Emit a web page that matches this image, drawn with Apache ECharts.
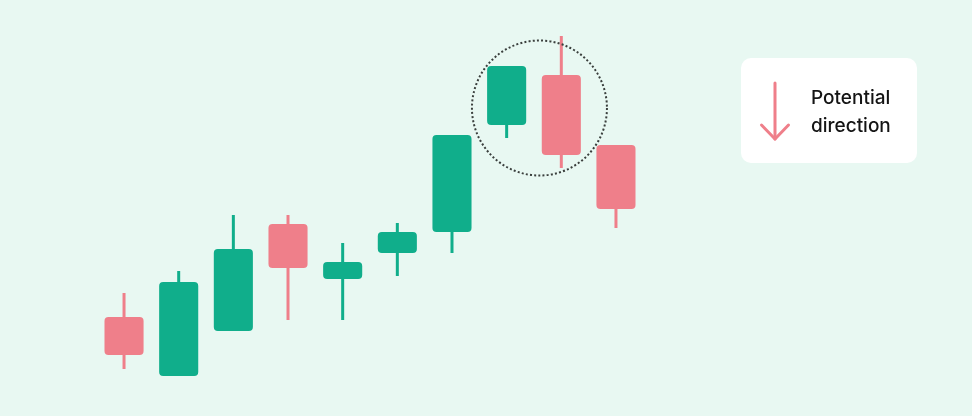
<!DOCTYPE html>
<html><head><meta charset="utf-8">
<script src="https://cdn.jsdelivr.net/npm/echarts@6/dist/echarts.min.js"></script>
<style>html,body{margin:0;padding:0;background:#E8F8F2}#c{width:972px;height:416px}</style>
</head><body><div id="c"></div>
<script>
// Candles: [open, close, low, high]
const categories = ['1','2','3','4','5','6','7','8','9','10'];
const opens  = [99, 40, 85, 192, 137, 163, 184, 291, 341, 271];
const closes = [61, 134, 167, 148, 154, 184, 281, 350, 261, 207];
const lows   = [47, 40, 85, 96, 96, 140, 163, 278, 248, 188];
const highs  = [123, 145, 201, 201, 173, 193, 281, 350, 380, 271];
const legendText = ['Potential', 'direction'];
const highlightIdx = [7, 8];
const highlightCenterValue = 308;

const GREEN = '#10AE8B', RED = '#EF7F8A';
const data = categories.map((c, i) => [i, opens[i], closes[i], lows[i], highs[i]]);

const chart = echarts.init(document.getElementById('c'), null, {renderer: 'canvas'});
chart.setOption({
  backgroundColor: '#E8F8F2',
  animation: false,
  grid: {left: 96.7, right: 328.7, top: 0, bottom: 0},
  xAxis: {type: 'category', data: categories, show: false},
  yAxis: {type: 'value', min: 0, max: 416, show: false},
  series: [{
    type: 'custom',
    data: data,
    encode: {x: 0, y: [1, 2, 3, 4]},
    renderItem: function (params, api) {
      const i = api.value(0);
      const o = api.value(1), c = api.value(2), lo = api.value(3), hi = api.value(4);
      const pO = api.coord([i, o]), pC = api.coord([i, c]);
      const pL = api.coord([i, lo]), pH = api.coord([i, hi]);
      const bw = api.size([1, 0])[0] * 0.715;
      const color = c >= o ? GREEN : RED;
      const top = Math.min(pO[1], pC[1]), bot = Math.max(pO[1], pC[1]);
      return {
        type: 'group',
        children: [
          {type: 'line', shape: {x1: pH[0], y1: pH[1], x2: pL[0], y2: pL[1]},
           style: {stroke: color, lineWidth: 3}},
          {type: 'rect', shape: {x: pO[0] - bw / 2, y: top, width: bw, height: bot - top, r: 4},
           style: {fill: color}}
        ]
      };
    }
  }]
});

const a = chart.convertToPixel({xAxisIndex: 0, yAxisIndex: 0}, [highlightIdx[0], highlightCenterValue]);
const b = chart.convertToPixel({xAxisIndex: 0, yAxisIndex: 0}, [highlightIdx[1], highlightCenterValue]);
chart.setOption({
  graphic: [
    {type: 'circle', shape: {cx: a[0] + (b[0] - a[0]) * 0.6, cy: a[1], r: 67.5},
     style: {fill: 'none', stroke: '#3a3f3d', lineWidth: 2, lineDash: [2, 2.2]}, z: 10},
    {type: 'rect', shape: {x: 741, y: 58, width: 176, height: 105, r: 10},
     style: {fill: '#FFFFFF'}},
    {type: 'polyline', shape: {points: [[775, 83], [775, 139]]},
     style: {stroke: RED, lineWidth: 3, lineCap: 'round'}},
    {type: 'polyline', shape: {points: [[761.5, 125], [775, 139], [788.5, 125]]},
     style: {stroke: RED, lineWidth: 3, lineCap: 'round', lineJoin: 'round', fill: 'none'}},
    {type: 'text', x: 811, y: 98.5, style: {text: legendText[0], fill: '#141414',
      font: '500 19px Inter, "Noto Sans", sans-serif', verticalAlign: 'middle'}},
    {type: 'text', x: 811, y: 126, style: {text: legendText[1], fill: '#141414',
      font: '500 19px Inter, "Noto Sans", sans-serif', verticalAlign: 'middle'}}
  ]
});
</script>
</body></html>
